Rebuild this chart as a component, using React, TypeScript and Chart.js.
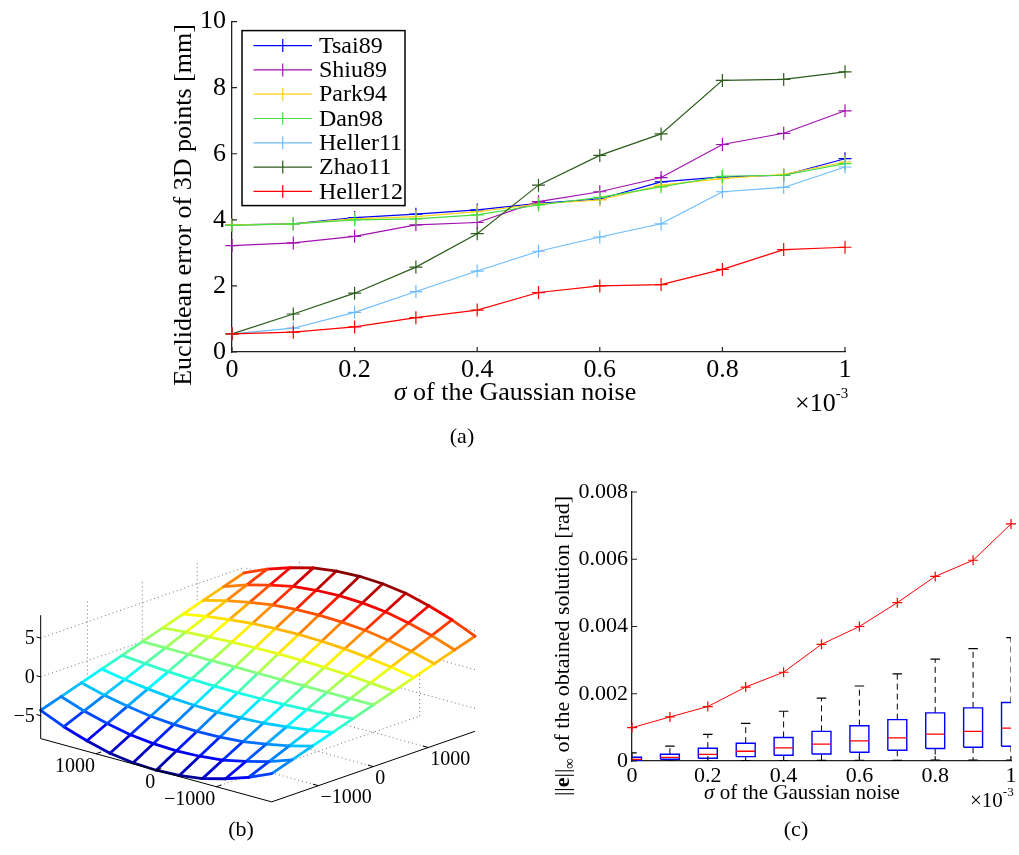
import React, { useEffect, useRef } from 'react';
import { Chart, registerables } from 'chart.js';

Chart.register(...registerables);

const SERIF = '"Liberation Serif", "Times New Roman", Times, serif';
Chart.defaults.font.family = SERIF;
Chart.defaults.color = '#000';

// ---------------- Panel (a) data ----------------
const SIGMA = [0, 0.1, 0.2, 0.3, 0.4, 0.5, 0.6, 0.7, 0.8, 0.9, 1];
const TSAI89 = [3.85, 3.88, 4.07, 4.17, 4.3, 4.5, 4.63, 5.15, 5.3, 5.35, 5.85];
const SHIU89 = [3.22, 3.3, 3.5, 3.85, 3.92, 4.55, 4.85, 5.28, 6.28, 6.62, 7.3];
const PARK94 = [3.85, 3.88, 4.03, 4.1, 4.25, 4.48, 4.6, 5.05, 5.25, 5.38, 5.75];
const DAN98 = [3.83, 3.88, 4.0, 4.03, 4.15, 4.45, 4.68, 5.0, 5.32, 5.35, 5.7];
const HELLER11 = [0.55, 0.72, 1.2, 1.83, 2.45, 3.05, 3.48, 3.88, 4.85, 4.98, 5.6];
const ZHAO11 = [0.55, 1.15, 1.78, 2.57, 3.58, 5.05, 5.95, 6.6, 8.22, 8.25, 8.48];
const HELLER12 = [0.55, 0.6, 0.76, 1.04, 1.27, 1.8, 2.0, 2.04, 2.5, 3.1, 3.17];
const A_SERIES = [TSAI89, SHIU89, PARK94, DAN98, HELLER11, ZHAO11, HELLER12];
const A_NAMES = ['Tsai89', 'Shiu89', 'Park94', 'Dan98', 'Heller11', 'Zhao11', 'Heller12'];
const A_COLORS = ['#0000ff', '#a010b0', '#ffd11a', '#44dd44', '#6cbcff', '#2c5c1c', '#ff0000'];
const X_TICKS = [0, 0.2, 0.4, 0.6, 0.8, 1];
const X_LABELS = ['0', '0.2', '0.4', '0.6', '0.8', '1'];
const A_Y_TICKS = [0, 2, 4, 6, 8, 10];
const A_Y_LABELS = ['0', '2', '4', '6', '8', '10'];

// ---------------- Panel (b) data ----------------
const U_GRID = [-1920, -1536, -1152, -768, -384, 0, 384, 768, 1152, 1536, 1920];
const V_GRID = [-1850, -1480, -1110, -740, -370, 0, 370, 740, 1110, 1480, 1850];
// rows: V_GRID index, columns: U_GRID index
const Z_SURFACE = [
  [-4.3, -5.6, -6.6, -7.4, -7.8, -7.95, -7.8, -7.4, -6.6, -5.6, -4.3],
  [-3.44, -4.48, -5.28, -5.92, -6.24, -6.36, -6.24, -5.92, -5.28, -4.48, -3.44],
  [-2.58, -3.36, -3.96, -4.44, -4.68, -4.77, -4.68, -4.44, -3.96, -3.36, -2.58],
  [-1.72, -2.24, -2.64, -2.96, -3.12, -3.18, -3.12, -2.96, -2.64, -2.24, -1.72],
  [-0.86, -1.12, -1.32, -1.48, -1.56, -1.59, -1.56, -1.48, -1.32, -1.12, -0.86],
  [0, 0, 0, 0, 0, 0, 0, 0, 0, 0, 0],
  [0.86, 1.12, 1.32, 1.48, 1.56, 1.59, 1.56, 1.48, 1.32, 1.12, 0.86],
  [1.72, 2.24, 2.64, 2.96, 3.12, 3.18, 3.12, 2.96, 2.64, 2.24, 1.72],
  [2.58, 3.36, 3.96, 4.44, 4.68, 4.77, 4.68, 4.44, 3.96, 3.36, 2.58],
  [3.44, 4.48, 5.28, 5.92, 6.24, 6.36, 6.24, 5.92, 5.28, 4.48, 3.44],
  [4.3, 5.6, 6.6, 7.4, 7.8, 7.95, 7.8, 7.4, 6.6, 5.6, 4.3],
];
const Z_LIMITS = [-7.95, 7.95];
const UV_TICKS = [-1000, 0, 1000];
const UV_LABELS = ['\u22121000', '0', '1000'];
const Z_TICKS = [-5, 0, 5];
const Z_LABELS = ['\u22125', '0', '5'];

// ---------------- Panel (c) data ----------------
const C_MAX_ERR = [0.00099, 0.00131, 0.00162, 0.0022, 0.00264, 0.00347, 0.004, 0.00471, 0.00549, 0.00597, 0.00705];
const C_LO = [0, 0, 0, 0.00001, 0.00001, 0.00002, 0.00002, 0.00002, 0.00003, 0.00003, 0.00003];
const C_Q1 = [0.00002, 0.00005, 0.00008, 0.00013, 0.00017, 0.00021, 0.00026, 0.00032, 0.00037, 0.00041, 0.00044];
const C_MED = [0.00005, 0.00011, 0.0002, 0.00029, 0.00039, 0.0005, 0.0006, 0.00069, 0.0008, 0.00088, 0.00098];
const C_Q3 = [0.00011, 0.0002, 0.00038, 0.00053, 0.0007, 0.00088, 0.00105, 0.00123, 0.00143, 0.00158, 0.00174];
const C_HI = [0.00024, 0.00044, 0.00079, 0.00112, 0.00148, 0.00187, 0.00223, 0.00259, 0.00303, 0.00334, 0.00367];
const C_Y_TICKS = [0, 0.002, 0.004, 0.006, 0.008];
const C_Y_LABELS = ['0', '0.002', '0.004', '0.006', '0.008'];

// ---------------- helpers ----------------
type Part = { t: string; size?: number; bold?: boolean; italic?: boolean; dy?: number };
type TextSpec = { parts: Part[]; x: number; y: number; size: number; align: 'left' | 'center' | 'right'; rot?: number };

function textLayer(specs: TextSpec[]) {
  return {
    id: 'textLayer',
    afterDraw(chart: any) {
      const ctx = chart.ctx as CanvasRenderingContext2D;
      for (const s of specs) {
        ctx.save();
        ctx.translate(s.x, s.y);
        if (s.rot) ctx.rotate(s.rot);
        ctx.fillStyle = '#000';
        ctx.textBaseline = 'alphabetic';
        ctx.textAlign = 'left';
        const font = (p: Part) => `${p.italic ? 'italic ' : ''}${p.bold ? 'bold ' : ''}${p.size ?? s.size}px ${SERIF}`;
        let total = 0;
        const widths = s.parts.map((p) => {
          ctx.font = font(p);
          const w = ctx.measureText(p.t).width;
          total += w;
          return w;
        });
        let x = s.align === 'center' ? -total / 2 : s.align === 'right' ? -total : 0;
        s.parts.forEach((p, i) => {
          ctx.font = font(p);
          ctx.fillText(p.t, x, p.dy ?? 0);
          x += widths[i];
        });
        ctx.restore();
      }
    },
  };
}

function inwardTicks(len: number, color: string, width: number) {
  return {
    id: 'inwardTicks',
    afterDatasetsDraw(chart: any) {
      const { ctx, chartArea: ca, scales } = chart;
      const xs = scales.x;
      const ys = scales.y;
      ctx.save();
      ctx.strokeStyle = color;
      ctx.lineWidth = width;
      ctx.beginPath();
      xs.ticks.forEach((t: any) => {
        const p = xs.getPixelForValue(t.value);
        ctx.moveTo(p, ca.bottom);
        ctx.lineTo(p, ca.bottom - len);
      });
      ys.ticks.forEach((t: any) => {
        const p = ys.getPixelForValue(t.value);
        ctx.moveTo(ca.left, p);
        ctx.lineTo(ca.left + len, p);
      });
      ctx.stroke();
      ctx.restore();
    },
  };
}

function boxLegend(cfg: { dx: number; dy: number; w: number; h: number; first: number; step: number; l0: number; l1: number; tx: number; font: number }) {
  return {
    id: 'boxLegend',
    afterDatasetsDraw(chart: any) {
      const { ctx, chartArea: ca } = chart;
      const x0 = ca.left + cfg.dx;
      const y0 = ca.top + cfg.dy;
      ctx.save();
      ctx.fillStyle = '#fff';
      ctx.fillRect(x0, y0, cfg.w, cfg.h);
      ctx.strokeStyle = '#000';
      ctx.lineWidth = 1.5;
      ctx.strokeRect(x0, y0, cfg.w, cfg.h);
      ctx.font = `${cfg.font}px ${SERIF}`;
      ctx.textBaseline = 'middle';
      ctx.textAlign = 'left';
      chart.data.datasets.forEach((ds: any, i: number) => {
        const cy = y0 + cfg.first + i * cfg.step;
        const mx = x0 + (cfg.l0 + cfg.l1) / 2;
        const r = 6.5;
        ctx.strokeStyle = ds.borderColor;
        ctx.lineWidth = 1.2;
        ctx.beginPath();
        ctx.moveTo(x0 + cfg.l0, cy);
        ctx.lineTo(x0 + cfg.l1, cy);
        ctx.moveTo(mx, cy - r);
        ctx.lineTo(mx, cy + r);
        ctx.stroke();
        ctx.fillStyle = '#000';
        ctx.fillText(ds.label, x0 + cfg.tx, cy + 1);
      });
      ctx.restore();
    },
  };
}

function linearAxis(ticks: number[], labels: string[], fontSize: number, padding: number, fit: (s: any) => void, extra: any = {}) {
  return {
    type: 'linear',
    afterBuildTicks: (s: any) => {
      s.ticks = ticks.map((v) => ({ value: v }));
    },
    afterFit: fit,
    ticks: {
      font: { size: fontSize, family: SERIF },
      color: '#000',
      padding,
      maxRotation: 0,
      autoSkip: false,
      callback: (_v: any, i: number) => labels[i],
    },
    grid: { display: false, drawTicks: false },
    border: { display: true, color: '#222', width: 1.3 },
    ...extra,
  };
}

// ---------------- Panel (a) config ----------------
function configA(): any {
  const datasets = A_SERIES.map((vals, i) => ({
    label: A_NAMES[i],
    data: SIGMA.map((s, k) => ({ x: s, y: vals[k] })),
    borderColor: A_COLORS[i],
    backgroundColor: A_COLORS[i],
    borderWidth: 1.2,
    pointStyle: 'cross',
    pointRadius: 6.5,
    pointBorderWidth: 1.2,
    pointBorderColor: A_COLORS[i],
    tension: 0,
    clip: false,
    order: A_SERIES.length - i,
  }));
  return {
    type: 'line',
    data: { datasets },
    options: {
      animation: false,
      responsive: false,
      events: [],
      layout: { padding: { left: 0, top: 17, right: 25, bottom: 0 } },
      plugins: { legend: { display: false }, tooltip: { enabled: false } },
      scales: {
        x: linearAxis(X_TICKS, X_LABELS, 26, 3, (s: any) => { s.height = 98; }, { min: 0, max: 1 }),
        y: linearAxis(A_Y_TICKS, A_Y_LABELS, 26, 6, (s: any) => { s.width = 82; }, { min: 0, max: 10 }),
      },
    },
    plugins: [
      inwardTicks(5, '#222', 1.2),
      boxLegend({ dx: 10, dy: 9, w: 163, h: 175, first: 15, step: 24.3, l0: 11.5, l1: 70, tx: 77, font: 24 }),
      textLayer([
        { parts: [{ t: 'Euclidean error of 3D points [mm]' }], x: 41, y: 205, size: 26, align: 'center', rot: -Math.PI / 2 },
        { parts: [{ t: '\u03c3', italic: true }, { t: ' of the Gaussian noise' }], x: 365, y: 400, size: 26, align: 'center' },
        { parts: [{ t: '\u00d710' }, { t: '-3', size: 15, dy: -13 }], x: 645, y: 411, size: 26, align: 'left' },
        { parts: [{ t: '(a)' }], x: 312, y: 443, size: 22, align: 'center' },
      ]),
    ],
  };
}

// ---------------- Panel (b) config ----------------
const VIEW = { ux: -0.06016, uy: 0.01648, vx: 0.05495, vy: 0.01908, zy: 7.76 };
const B_AREA = { xMin: -257.85, xMax: 242.15, yMin: -176.75, yMax: 153.25 };

function project(u: number, v: number, z: number) {
  return { x: VIEW.ux * u + VIEW.vx * v, y: VIEW.uy * u + VIEW.vy * v + VIEW.zy * z };
}

function jet(t: number) {
  const c = (x: number) => Math.max(0, Math.min(1, x));
  const tt = c(t);
  const r = c(1.5 - Math.abs(4 * tt - 3));
  const g = c(1.5 - Math.abs(4 * tt - 2));
  const b = c(1.5 - Math.abs(4 * tt - 1));
  return `rgb(${Math.round(r * 255)},${Math.round(g * 255)},${Math.round(b * 255)})`;
}

function configB(): any {
  const U_MIN = U_GRID[0];
  const U_MAX = U_GRID[U_GRID.length - 1];
  const V_MIN = V_GRID[0];
  const V_MAX = V_GRID[V_GRID.length - 1];
  const [Z_MIN, Z_MAX] = Z_LIMITS;
  const base = { type: 'line', pointRadius: 0, tension: 0, fill: false };
  const dotted = { ...base, borderColor: '#707070', borderWidth: 1, borderDash: [1, 3], order: 30 };
  const datasets: any[] = [];
  const seg = (a: any, b: any, style: any) => datasets.push({ ...style, data: [a, b] });

  // back walls and floor grid
  UV_TICKS.forEach((v) => seg(project(U_MAX, v, Z_MIN), project(U_MAX, v, Z_MAX), dotted));
  Z_TICKS.forEach((z) => seg(project(U_MAX, V_MIN, z), project(U_MAX, V_MAX, z), dotted));
  UV_TICKS.forEach((u) => seg(project(u, V_MAX, Z_MIN), project(u, V_MAX, Z_MAX), dotted));
  Z_TICKS.forEach((z) => seg(project(U_MIN, V_MAX, z), project(U_MAX, V_MAX, z), dotted));
  UV_TICKS.forEach((u) => seg(project(u, V_MIN, Z_MIN), project(u, V_MAX, Z_MIN), dotted));
  UV_TICKS.forEach((v) => seg(project(U_MIN, v, Z_MIN), project(U_MAX, v, Z_MIN), dotted));

  const node = (i: number, j: number) => ({ ...project(U_GRID[j], V_GRID[i], Z_SURFACE[i][j]), z: Z_SURFACE[i][j] });
  const nI = V_GRID.length;
  const nJ = U_GRID.length;

  // opaque white face of the surface
  const outline: any[] = [];
  for (let j = 0; j < nJ; j++) outline.push(node(0, j));
  for (let i = 1; i < nI; i++) outline.push(node(i, nJ - 1));
  for (let j = nJ - 2; j >= 0; j--) outline.push(node(nI - 1, j));
  for (let i = nI - 2; i >= 0; i--) outline.push(node(i, 0));
  datasets.push({ ...base, data: outline, fill: 'shape', backgroundColor: '#ffffff', borderColor: 'rgba(0,0,0,0)', borderWidth: 0, order: 20 });

  const meshLine = (pts: any[]) => {
    const colors = pts.slice(1).map((p, k) => jet(((pts[k].z + p.z) / 2 - Z_MIN) / (Z_MAX - Z_MIN)));
    datasets.push({
      ...base,
      data: pts,
      borderColor: colors[0],
      borderWidth: 2.8,
      borderJoinStyle: 'round',
      borderCapStyle: 'round',
      segment: { borderColor: (ctx: any) => colors[ctx.p0DataIndex] },
      order: 10,
    });
  };
  for (let i = 0; i < nI; i++) meshLine(U_GRID.map((_, j) => node(i, j)));
  for (let j = 0; j < nJ; j++) meshLine(V_GRID.map((_, i) => node(i, j)));

  // axis lines
  const axisStyle = { ...base, borderColor: '#000', borderWidth: 1, order: 5 };
  seg(project(U_MAX, V_MIN, Z_MIN), project(U_MAX, V_MIN, Z_MAX), axisStyle);
  seg(project(U_MAX, V_MIN, Z_MIN), project(U_MIN, V_MIN, Z_MIN), axisStyle);
  seg(project(U_MIN, V_MIN, Z_MIN), project(U_MIN, V_MAX, Z_MIN), axisStyle);

  const surfaceTicks = {
    id: 'surfaceTicks',
    afterDatasetsDraw(chart: any) {
      const { ctx, scales } = chart;
      const P = (p: { x: number; y: number }) => [scales.x.getPixelForValue(p.x), scales.y.getPixelForValue(p.y)];
      ctx.save();
      ctx.strokeStyle = '#000';
      ctx.lineWidth = 1;
      ctx.fillStyle = '#000';
      ctx.font = `20px ${SERIF}`;
      ctx.textBaseline = 'middle';
      Z_TICKS.forEach((z, i) => {
        const [x0, y0] = P(project(U_MAX, V_MIN, z));
        const [x1, y1] = P(project(U_MAX + 70, V_MIN, z));
        ctx.beginPath(); ctx.moveTo(x0, y0); ctx.lineTo(x1, y1); ctx.stroke();
        ctx.textAlign = 'right';
        ctx.fillText(Z_LABELS[i], x0 - 6, y0 + 1);
      });
      UV_TICKS.forEach((u, i) => {
        const [x0, y0] = P(project(u, V_MIN, Z_MIN));
        const [x1, y1] = P(project(u, V_MIN + 90, Z_MIN));
        ctx.beginPath(); ctx.moveTo(x0, y0); ctx.lineTo(x1, y1); ctx.stroke();
        ctx.textAlign = 'right';
        ctx.fillText(UV_LABELS[i], x0 - 1, y0 + 13);
      });
      UV_TICKS.forEach((v, i) => {
        const [x0, y0] = P(project(U_MIN, v, Z_MIN));
        const [x1, y1] = P(project(U_MIN + 90, v, Z_MIN));
        ctx.beginPath(); ctx.moveTo(x0, y0); ctx.lineTo(x1, y1); ctx.stroke();
        ctx.textAlign = 'left';
        ctx.fillText(UV_LABELS[i], x0 + 2, y0 + 12);
      });
      ctx.restore();
    },
  };

  return {
    type: 'line',
    data: { datasets },
    options: {
      animation: false,
      responsive: false,
      events: [],
      layout: { padding: 0 },
      plugins: { legend: { display: false }, tooltip: { enabled: false } },
      scales: {
        x: { type: 'linear', display: false, min: B_AREA.xMin, max: B_AREA.xMax },
        y: { type: 'linear', display: false, min: B_AREA.yMin, max: B_AREA.yMax },
      },
    },
    plugins: [
      surfaceTicks,
      textLayer([{ parts: [{ t: '(b)' }], x: 241, y: 316, size: 22, align: 'center' }]),
    ],
  };
}

// ---------------- Panel (c) config ----------------
function configC(): any {
  const hw = 0.025;
  const cw = 0.0125;
  const boxes: any[] = [];
  const medians: any[] = [];
  const whiskers: any[] = [];
  const caps: any[] = [];
  SIGMA.forEach((s, i) => {
    boxes.push(
      { x: s - hw, y: C_Q1[i] }, { x: s + hw, y: C_Q1[i] }, { x: s + hw, y: C_Q3[i] },
      { x: s - hw, y: C_Q3[i] }, { x: s - hw, y: C_Q1[i] }, { x: s, y: null },
    );
    medians.push({ x: s - hw, y: C_MED[i] }, { x: s + hw, y: C_MED[i] }, { x: s, y: null });
    whiskers.push(
      { x: s, y: C_Q3[i] }, { x: s, y: C_HI[i] }, { x: s, y: null },
      { x: s, y: C_Q1[i] }, { x: s, y: C_LO[i] }, { x: s, y: null },
    );
    caps.push(
      { x: s - cw, y: C_HI[i] }, { x: s + cw, y: C_HI[i] }, { x: s, y: null },
      { x: s - cw, y: C_LO[i] }, { x: s + cw, y: C_LO[i] }, { x: s, y: null },
    );
  });
  const base = { type: 'line', pointRadius: 0, tension: 0, fill: false, spanGaps: false };
  const datasets = [
    { ...base, label: 'max error', data: SIGMA.map((s, i) => ({ x: s, y: C_MAX_ERR[i] })), borderColor: '#ff0000', borderWidth: 1, pointStyle: 'cross', pointRadius: 5, pointBorderWidth: 1.2, pointBorderColor: '#ff0000', clip: false, order: 1 },
    { ...base, label: 'median', data: medians, borderColor: '#ff0000', borderWidth: 1.3, order: 2 },
    { ...base, label: 'box', data: boxes, borderColor: '#0000ff', borderWidth: 1.4, order: 3 },
    { ...base, label: 'cap', data: caps, borderColor: '#000', borderWidth: 1.2, order: 4 },
    { ...base, label: 'whisker', data: whiskers, borderColor: '#000', borderWidth: 1, borderDash: [6, 4], order: 5 },
  ];
  return {
    type: 'line',
    data: { datasets },
    options: {
      animation: false,
      responsive: false,
      events: [],
      layout: { padding: { left: 0, top: 22, right: 8, bottom: 0 } },
      plugins: { legend: { display: false }, tooltip: { enabled: false } },
      scales: {
        x: linearAxis(X_TICKS, X_LABELS, 22, 2, (s: any) => { s.height = 89; }, { min: 0, max: 1 }),
        y: linearAxis(C_Y_TICKS, C_Y_LABELS, 22, 4, (s: any) => { s.width = 112; }, { min: 0, max: 0.008 }),
      },
    },
    plugins: [
      inwardTicks(5, '#222', 1.2),
      textLayer([
        { parts: [{ t: '||' }, { t: 'e', bold: true }, { t: '||' }, { t: '\u221e', size: 15, dy: 5 }, { t: ' of the obtained solution [rad]' }], x: 49, y: 176, size: 22, align: 'center', rot: -Math.PI / 2 },
        { parts: [{ t: '\u03c3', italic: true }, { t: ' of the Gaussian noise' }], x: 282, y: 329, size: 21, align: 'center' },
        { parts: [{ t: '\u00d710' }, { t: '-3', size: 13, dy: -11 }], x: 450, y: 337, size: 21, align: 'left' },
        { parts: [{ t: '(c)' }], x: 276, y: 366, size: 22, align: 'center' },
      ]),
    ],
  };
}

export default function App() {
  const aRef = useRef<HTMLCanvasElement>(null);
  const bRef = useRef<HTMLCanvasElement>(null);
  const cRef = useRef<HTMLCanvasElement>(null);
  useEffect(() => {
    const charts = [
      new Chart(aRef.current as HTMLCanvasElement, configA()),
      new Chart(bRef.current as HTMLCanvasElement, configB()),
      new Chart(cRef.current as HTMLCanvasElement, configC()),
    ];
    return () => charts.forEach((c) => c.destroy());
  }, []);
  const abs = (left: number, top: number, w: number, h: number): React.CSSProperties => ({ position: 'absolute', left, top, width: w, height: h });
  return (
    <div style={{ position: 'absolute', left: 0, top: 0, width: 1019, height: 855, background: '#fff', overflow: 'hidden' }}>
      <canvas ref={aRef} width={720} height={450} style={abs(150, 0, 720, 450)} />
      <canvas ref={bRef} width={500} height={330} style={abs(0, 520, 500, 330)} />
      <canvas ref={cRef} width={499} height={380} style={abs(520, 470, 499, 380)} />
    </div>
  );
}
